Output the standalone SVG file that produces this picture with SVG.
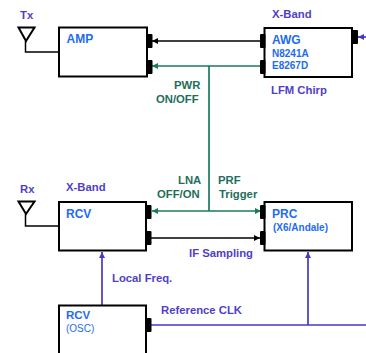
<svg xmlns="http://www.w3.org/2000/svg" width="366" height="353" viewBox="0 0 366 353">
<style>
text{font-family:"Liberation Sans",Arial,sans-serif;font-weight:bold;font-size:11.300px}
.box{fill:#fff;stroke:#000;stroke-width:2}
.port{fill:#000}
.ant{fill:#fff;stroke:#000;stroke-width:2}
.k{fill:none;stroke:#000;stroke-width:1.500}
.g{fill:none;stroke:#1a7a5e;stroke-width:1.700}
.b{fill:none;stroke:#4338c8;stroke-width:1.700}
.bl{fill:#1e6cf0}
.pu{fill:#4f3fc8}
.gt{fill:#1f6e5c}
</style>
<defs>
<marker id="ak" markerUnits="userSpaceOnUse" markerWidth="7" markerHeight="7" refX="6" refY="3.5" orient="auto"><path d="M0,0.5L6,3.5L0,6.5z" fill="#000"/></marker>
<marker id="ag" markerUnits="userSpaceOnUse" markerWidth="7" markerHeight="7" refX="6" refY="3.5" orient="auto"><path d="M0,0.5L6,3.5L0,6.5z" fill="#1a7a5e"/></marker>
<marker id="ab" markerUnits="userSpaceOnUse" markerWidth="7" markerHeight="7" refX="6" refY="3.5" orient="auto"><path d="M0,0.5L6,3.5L0,6.5z" fill="#4338c8"/></marker>
</defs>
<g id="connectors">
<path class="k" d="M25.500,41V52H59"/>
<path class="k" d="M25.500,214V226H59"/>
<path class="k" d="M262,41H152" marker-end="url(#ak)"/>
<path class="g" d="M262,66H152" marker-end="url(#ag)"/>
<path class="g" d="M209,66V211"/>
<path class="g" d="M209,211H152" marker-end="url(#ag)"/>
<path class="g" d="M209,211H261" marker-end="url(#ag)"/>
<path class="k" d="M151,238H260" marker-end="url(#ak)"/>
<path class="b" d="M366,37H358" marker-end="url(#ab)"/>
<path class="b" d="M102,305V252" marker-end="url(#ab)"/>
<path class="b" d="M150,325H366"/>
<path class="b" d="M308,325V252" marker-end="url(#ab)"/>
</g>
<g id="tx"><path class="ant" d="M18.500,27.500H34.500L26,41z"/><text class="pu" x="20" y="19">Tx</text></g>
<g id="rx"><path class="ant" d="M18.500,201.500H34.500L26,214z"/><text class="pu" x="20" y="193">Rx</text></g>
<g id="amp"><rect class="box" x="59" y="27.500" width="88" height="49"/>
<rect class="port" x="147" y="34" width="5.500" height="14" rx="1"/><rect class="port" x="147" y="60" width="5.500" height="14" rx="1"/>
<text class="bl" x="66.500" y="43" style="font-size:12px">AMP</text></g>
<g id="awg"><rect class="box" x="264.500" y="28" width="87.500" height="49"/>
<rect class="port" x="260" y="34" width="5.500" height="14" rx="1"/><rect class="port" x="260" y="60" width="5.500" height="14" rx="1"/><rect class="port" x="352" y="30" width="6" height="14" rx="1"/>
<text class="bl" x="272" y="44" style="font-size:12px">AWG</text>
<text class="bl" x="272" y="57" style="font-size:10px">N8241A</text>
<text class="bl" x="272" y="69" style="font-size:10px">E8267D</text></g>
<g id="rcv"><rect class="box" x="59" y="202" width="87" height="48.500"/>
<rect class="port" x="146" y="205" width="5.500" height="14" rx="1"/><rect class="port" x="146" y="231" width="5.500" height="14" rx="1"/>
<text class="bl" x="66" y="218" style="font-size:12px">RCV</text></g>
<g id="prc"><rect class="box" x="264.500" y="202" width="87.500" height="48.500"/>
<rect class="port" x="260" y="205" width="5.500" height="14" rx="1"/><rect class="port" x="260" y="231" width="5.500" height="14" rx="1"/>
<text class="bl" x="272" y="218" style="font-size:12px">PRC</text>
<text class="bl" x="273" y="231" style="font-size:10px">(X6/Andale)</text></g>
<g id="osc"><path class="box" d="M59,355V305.500H146V355"/>
<rect class="port" x="146" y="318" width="5.500" height="14" rx="1"/>
<text class="bl" x="66" y="319" style="font-size:11.500px">RCV</text>
<text class="bl" x="66" y="332" style="font-size:10px;font-weight:normal">(OSC)</text></g>
<g id="labels">
<text class="pu" x="272" y="18">X-Band</text>
<text class="pu" x="271" y="94">LFM Chirp</text>
<text class="pu" x="66" y="191">X-Band</text>
<text class="pu" x="112" y="282">Local Freq.</text>
<text class="pu" x="161" y="314">Reference CLK</text>
<text class="pu" x="189" y="257">IF Sampling</text>
<text class="gt" x="174" y="89">PWR</text>
<text class="gt" x="156" y="103">ON/OFF</text>
<text class="gt" x="178" y="184">LNA</text>
<text class="gt" x="157" y="198">OFF/ON</text>
<text class="gt" x="218" y="184">PRF</text>
<text class="gt" x="219" y="198">Trigger</text>
</g>
</svg>
